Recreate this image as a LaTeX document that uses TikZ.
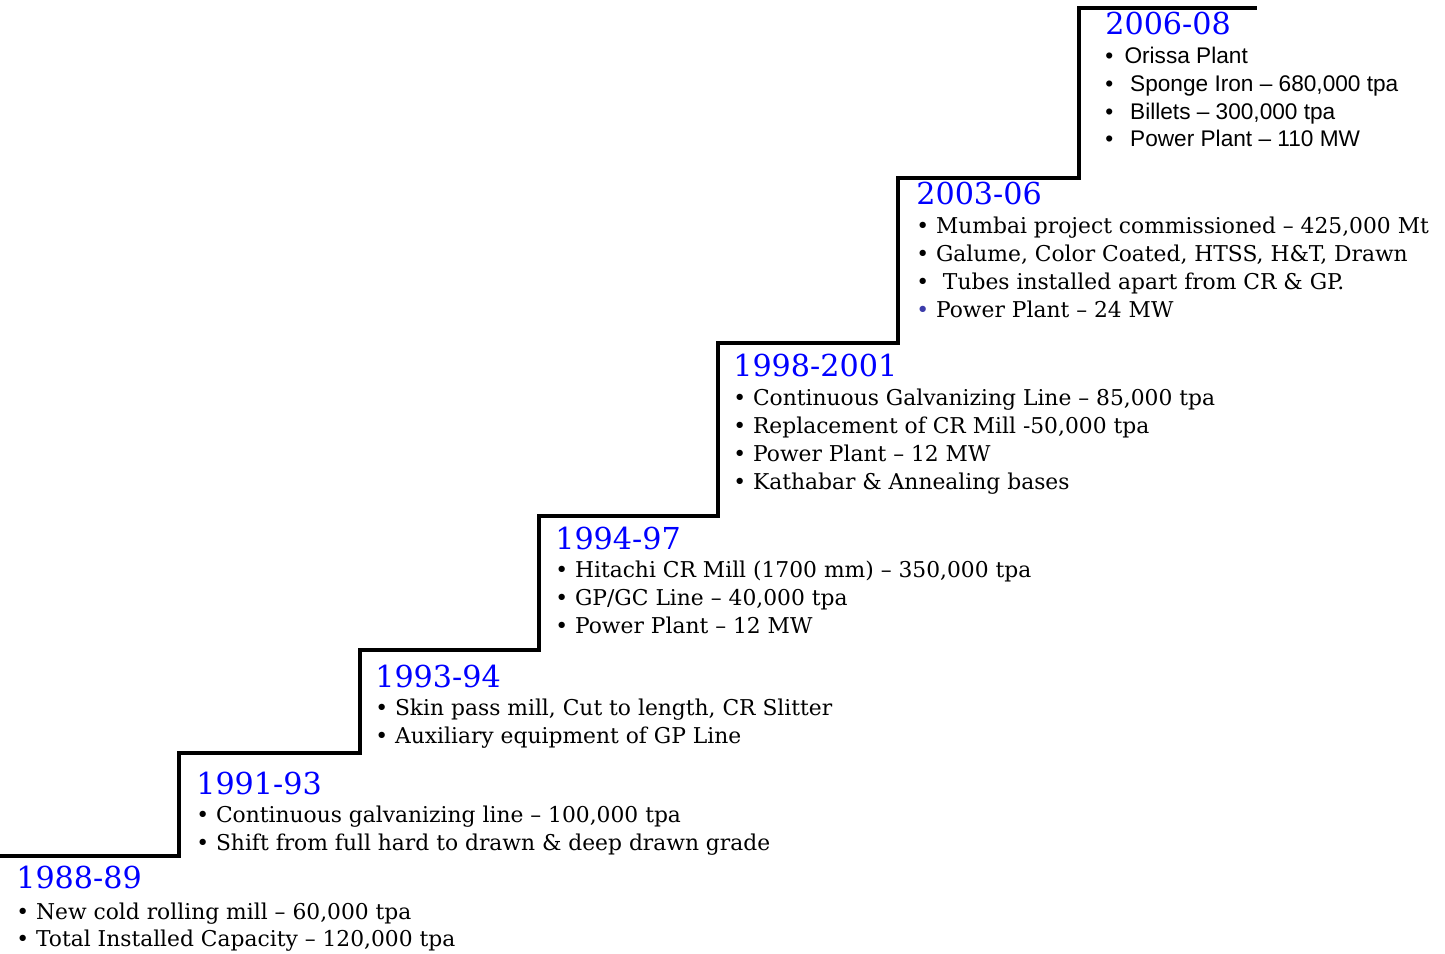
\documentclass[tikz,border=0pt]{standalone}
\usepackage{fontspec}
\setmainfont{DejaVu Serif}
\newfontfamily\sansfont{Liberation Sans}
\definecolor{yrblue}{RGB}{0,0,255}
\definecolor{dotblue}{RGB}{60,60,170}

\begin{document}
\begin{tikzpicture}[x=0.025cm, y=-0.025cm,
	every node/.style={inner sep=0pt, anchor=base west},
	year/.style={text=yrblue, font=\fontsize{21.5}{21.5}\selectfont},
	item/.style={font=\fontsize{15.5}{15.5}\selectfont},
	sitem/.style={font=\sansfont\fontsize{16.1}{16.1}\selectfont}]
	\useasboundingbox (0,0) rectangle (1445,953);
	% staircase
	\draw[line width=2.2pt] (0,856) -- (179,856) -- (179,753) -- (360,753) -- (360,650) -- (539,650)
		-- (539,516) -- (718,516) -- (718,343) -- (898,343) -- (898,178) -- (1079,178) -- (1079,8) -- (1257,8);
	% 1988-89
	\node[year] (y1) at (16,888) {1988-89};
	\foreach \t [count=\i from 0] in {{New cold rolling mill – 60,000 tpa}, {Total Installed Capacity – 120,000 tpa}}
		\node[item] (a\i) at (16,919+27*\i) {• \t};
	% 1991-93
	\node[year] (y2) at (196,794) {1991-93};
	\foreach \t [count=\i from 0] in {{Continuous galvanizing line – 100,000 tpa}, {Shift from full hard to drawn \& deep drawn grade}}
		\node[item] (b\i) at (196,822+28*\i) {• \t};
	% 1993-94
	\node[year] (y3) at (375,687) {1993-94};
	\foreach \t [count=\i from 0] in {{Skin pass mill, Cut to length, CR Slitter}, {Auxiliary equipment of GP Line}}
		\node[item] (c\i) at (375,715+28*\i) {• \t};
	% 1994-97
	\node[year] (y4) at (555,549) {1994-97};
	\foreach \t [count=\i from 0] in {{Hitachi CR Mill (1700 mm) – 350,000 tpa}, {GP/GC Line – 40,000 tpa}, {Power Plant – 12 MW}}
		\node[item] (d\i) at (555,577+28*\i) {• \t};
	% 1998-2001
	\node[year] (y5) at (733,376) {1998-2001};
	\foreach \t [count=\i from 0] in {{Continuous Galvanizing Line – 85,000 tpa}, {Replacement of CR Mill -50,000 tpa}, {Power Plant – 12 MW}, {Kathabar \& Annealing bases}}
		\node[item] (e\i) at (733,405+28*\i) {• \t};
	% 2003-06
	\node[year] (y6) at (916,204) {2003-06};
	\foreach \t [count=\i from 0] in {{Mumbai project commissioned – 425,000 Mt}, {Galume, Color Coated, HTSS, H\&T, Drawn}, {\ Tubes installed apart from CR \& GP.}}
		\node[item] (f\i) at (916,233+28*\i) {• \t};
	\node[item] (f3) at (916,317) {\textcolor{dotblue}{•} Power Plant – 24 MW};
	% 2006-08
	\node[year] (y7) at (1105,35) {2006-08};
	\node[sitem] (g0) at (1105,64) {•\hspace{0.5em}Orissa Plant};
	\foreach \t [count=\i from 1] in {{Sponge Iron – 680,000 tpa}, {Billets – 300,000 tpa}, {Power Plant – 110 MW}}
		\node[sitem] (g\i) at (1105,64+27.5*\i) {•\hspace{0.75em}\t};
\end{tikzpicture}
\end{document}
